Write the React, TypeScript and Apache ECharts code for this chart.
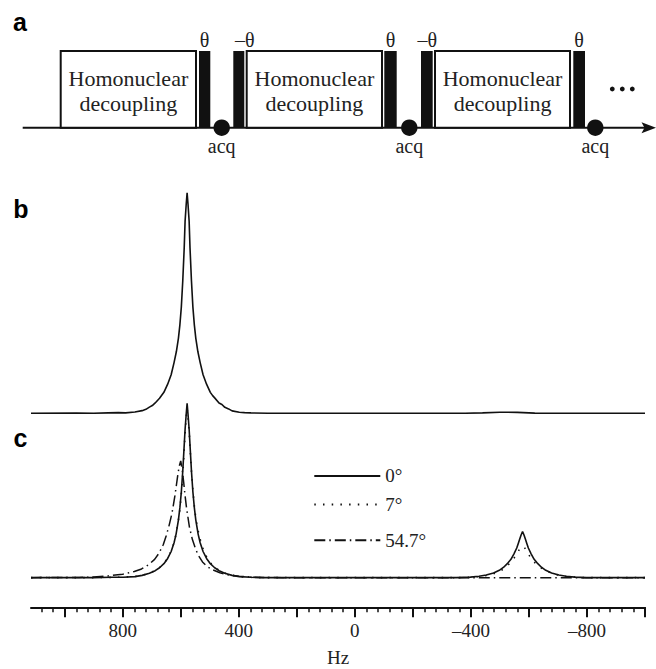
import React, { useEffect, useRef } from "react";
import * as echarts from "echarts";

const SERIF = "Liberation Serif";
const SANS = "Liberation Sans";
const INK = "#111111";

// legend names for panel c
const legendNames = ["0°", "7°", "54.7°"];

// axis ticks (Hz)
const majorTickHz = [-1000, -800, -600, -400, -200, 0, 200, 400, 600, 800, 1000];
const minorTickHz = [
  -1000, -960, -920, -880, -840, -800, -760, -720, -680, -640, -600, -560, -520, -480,
  -440, -400, -360, -320, -280, -240, -200, -160, -120, -80, -40, 0, 40, 80, 120, 160,
  200, 240, 280, 320, 360, 400, 440, 480, 520, 560, 600, 640, 680, 720, 760, 800, 840,
  880, 920, 960, 1000, 1040, 1080,
];
const labelHz = [800, 400, 0, -400, -800];

// panel b spectrum [Hz, intensity]
const spectrumB = [
  [1116, 0], [960, 0.001], [900, 0], [850, 0.002], [815, 0.003], [790, 0.002], [758, 0.006],
  [733, 0.012], [720, 0.018], [708, 0.028], [698, 0.035], [688, 0.047], [673, 0.068],
  [658, 0.095], [645, 0.132], [633, 0.175], [623, 0.23], [615, 0.28], [608, 0.34],
  [603, 0.4], [598, 0.48], [593, 0.6], [588, 0.75], [585, 0.87], [581, 0.95], [578, 1.0],
  [575, 0.95], [571, 0.87], [568, 0.75], [563, 0.6], [558, 0.48], [553, 0.4], [548, 0.34],
  [541, 0.28], [533, 0.23], [523, 0.175], [511, 0.132], [498, 0.095], [490, 0.08],
  [483, 0.07], [468, 0.047], [458, 0.04], [448, 0.027], [435, 0.02], [423, 0.011],
  [398, 0.005], [380, 0.003], [358, 0.002], [300, 0], [0, 0], [-380, 0], [-440, 0.002],
  [-500, 0.005], [-560, 0.004], [-620, 0.001], [-680, 0], [-1000, 0],
];

// panel c, 0 degrees
const spectrumC0 = [
  [1116, 0], [900, 0], [838, 0.002], [798, 0.002], [758, 0.006], [733, 0.013], [708, 0.025],
  [688, 0.04], [673, 0.057], [658, 0.08], [645, 0.11], [633, 0.15], [623, 0.2], [616, 0.25],
  [608, 0.33], [603, 0.4], [598, 0.49], [593, 0.61], [588, 0.76], [585, 0.85], [581, 0.94],
  [578, 1.0], [575, 0.94], [571, 0.85], [568, 0.76], [563, 0.61], [558, 0.49], [553, 0.4],
  [548, 0.33], [540, 0.25], [533, 0.2], [523, 0.15], [511, 0.11], [498, 0.08], [483, 0.057],
  [468, 0.04], [448, 0.025], [423, 0.013], [398, 0.006], [358, 0.002], [318, 0], [-350, 0],
  [-398, 0.003], [-428, 0.008], [-453, 0.015], [-478, 0.027], [-498, 0.042], [-513, 0.06],
  [-528, 0.085], [-538, 0.105], [-548, 0.135], [-558, 0.17], [-563, 0.195], [-568, 0.22],
  [-573, 0.245], [-578, 0.265], [-583, 0.245], [-588, 0.22], [-593, 0.195], [-598, 0.17],
  [-608, 0.135], [-618, 0.105], [-628, 0.085], [-643, 0.06], [-658, 0.042], [-678, 0.027],
  [-703, 0.015], [-728, 0.008], [-758, 0.003], [-798, 0], [-1000, 0],
];

// panel c, 7 degrees
const spectrumC7 = [
  [1116, 0], [900, 0], [838, 0.002], [798, 0.003], [758, 0.006], [733, 0.013], [708, 0.026],
  [688, 0.041], [673, 0.058], [658, 0.082], [645, 0.112], [633, 0.152], [623, 0.2],
  [616, 0.25], [608, 0.33], [603, 0.39], [598, 0.48], [593, 0.59], [588, 0.73], [585, 0.83],
  [581, 0.92], [578, 0.97], [575, 0.92], [571, 0.84], [568, 0.75], [563, 0.61], [558, 0.5],
  [553, 0.41], [548, 0.34], [540, 0.27], [533, 0.22], [523, 0.165], [511, 0.12],
  [498, 0.085], [483, 0.06], [468, 0.042], [448, 0.026], [423, 0.014], [398, 0.006],
  [358, 0.002], [318, 0], [-350, 0], [-398, 0.002], [-428, 0.006], [-453, 0.012],
  [-478, 0.022], [-498, 0.035], [-513, 0.05], [-528, 0.072], [-538, 0.09], [-548, 0.11],
  [-558, 0.135], [-563, 0.15], [-568, 0.165], [-573, 0.175], [-578, 0.18], [-583, 0.175],
  [-588, 0.165], [-593, 0.15], [-598, 0.135], [-608, 0.11], [-618, 0.09], [-628, 0.075],
  [-643, 0.055], [-658, 0.04], [-678, 0.026], [-703, 0.014], [-728, 0.007], [-758, 0.003],
  [-798, 0], [-1000, 0],
];

// panel c, 54.7 degrees
const spectrumC547 = [
  [1116, 0], [950, 0.001], [900, 0.004], [850, 0.01], [800, 0.02], [760, 0.035], [735, 0.05],
  [710, 0.075], [690, 0.105], [675, 0.14], [660, 0.19], [650, 0.24], [640, 0.3], [630, 0.37],
  [620, 0.47], [615, 0.53], [610, 0.59], [605, 0.64], [600, 0.67], [595, 0.62], [590, 0.55],
  [585, 0.47], [580, 0.4], [570, 0.29], [560, 0.22], [550, 0.17], [540, 0.13], [525, 0.09],
  [510, 0.065], [490, 0.045], [465, 0.028], [440, 0.017], [400, 0.008], [350, 0.003],
  [300, 0.001], [250, 0], [-1000, 0],
];

function pulseDiagram() {
  const els: any[] = [];
  const base = 127.7;
  const top = 51;
  els.push({ type: "line", shape: { x1: 22.7, y1: base, x2: 646, y2: base }, style: { stroke: INK, lineWidth: 2 } });
  els.push({ type: "polygon", shape: { points: [[641.5, 122.2], [656, base], [641.5, 133.2], [644.5, base]] }, style: { fill: INK } });
  const boxes = [[60.7, 196], [246.7, 382], [435, 570]];
  boxes.forEach(([x0, x1]) => {
    els.push({ type: "rect", shape: { x: x0, y: top, width: x1 - x0, height: base - top }, style: { fill: "#fff", stroke: INK, lineWidth: 2 } });
    els.push({ type: "text", x: (x0 + x1) / 2, y: 78.3, style: { text: "Homonuclear", fontSize: 22, fontFamily: SERIF, fill: "#222", align: "center", verticalAlign: "middle" } });
    els.push({ type: "text", x: (x0 + x1) / 2, y: 103.3, style: { text: "decoupling", fontSize: 22, fontFamily: SERIF, fill: "#222", align: "center", verticalAlign: "middle" } });
  });
  const pulses = [
    [199, 210.3, "θ", 204.6],
    [233.3, 244.3, "–θ", 244.7],
    [384.3, 396.7, "θ", 390.5],
    [421, 432.7, "–θ", 427.3],
    [573.3, 585, "θ", 579],
  ];
  pulses.forEach(([x0, x1, lab, lx]: any) => {
    els.push({ type: "rect", shape: { x: x0, y: top, width: x1 - x0, height: base - top }, style: { fill: INK } });
    els.push({ type: "text", x: lx, y: 40.3, style: { text: lab, fontSize: 20, fontFamily: SERIF, fill: "#222", align: "center", verticalAlign: "middle" } });
  });
  [221.7, 409.3, 595.3].forEach((cx) => {
    els.push({ type: "circle", shape: { cx, cy: base, r: 8.2 }, style: { fill: INK } });
    els.push({ type: "text", x: cx, y: 145.6, style: { text: "acq", fontSize: 20, fontFamily: SERIF, fill: "#222", align: "center", verticalAlign: "middle" } });
  });
  [612.3, 622.3, 632.3].forEach((cx) => {
    els.push({ type: "circle", shape: { cx, cy: 89, r: 2.4 }, style: { fill: INK } });
  });
  const letters = [["a", 20, 22], ["b", 21, 208.5], ["c", 20.5, 438]];
  letters.forEach(([t, x, y]: any) => {
    els.push({ type: "text", x, y, style: { text: t, fontSize: 25, fontWeight: "bold", fontFamily: SANS, fill: "#000", align: "center", verticalAlign: "middle" } });
  });
  return els;
}

export default function App() {
  const ref = useRef<HTMLDivElement>(null);
  useEffect(() => {
    document.body.style.margin = "0";
    const chart = echarts.init(ref.current!, null, { renderer: "svg" });
    const serifText = { fontSize: 19, fontFamily: SERIF, fontWeight: "normal", color: "#222" };
    const xCommon = { type: "value", min: -1000, max: 1116, inverse: true, position: "bottom" };
    const lineBase = { type: "line", symbol: "none", clip: false, silent: true };
    const legendCommon = {
      orient: "vertical",
      left: 313.3,
      padding: 0,
      itemWidth: 66,
      itemHeight: 14,
      selectedMode: false,
      itemStyle: { opacity: 0 },
      formatter: "{t|{name}}",
      textStyle: { ...serifText, rich: { t: { ...serifText } } },
    };
    const option: any = {
      animation: false,
      backgroundColor: "#fff",
      textStyle: { fontFamily: SERIF },
      legend: [
        { ...legendCommon, top: 466.4, data: [legendNames[0]] },
        { ...legendCommon, top: 495, data: [legendNames[1]] },
        { ...legendCommon, top: 530.7, data: [legendNames[2]] },
      ],
      grid: [
        { left: 31, width: 614, top: 192.7, height: 220.6, outerBoundsMode: "none", containLabel: false },
        { left: 31, width: 614, top: 403.3, height: 204, outerBoundsMode: "none", containLabel: false },
      ],
      xAxis: [
        { ...xCommon, gridIndex: 0, show: false },
        {
          ...xCommon,
          gridIndex: 1,
          axisLine: { show: true, onZero: false, lineStyle: { color: INK, width: 2 } },
          axisTick: { show: true, length: 10, lineStyle: { color: INK, width: 2 }, customValues: majorTickHz },
          axisLabel: {
            show: true,
            customValues: labelHz,
            formatter: (v: number) => "{t|" + (v < 0 ? "–" + Math.abs(v) : String(v)) + "}",
            ...serifText,
            rich: { t: { ...serifText } },
            margin: 14,
          },
          splitLine: { show: false },
          name: "Hz",
          nameLocation: "middle",
          nameGap: 41,
          nameTextStyle: { ...serifText },
        },
        {
          ...xCommon,
          gridIndex: 1,
          axisLine: { show: false, onZero: false },
          axisTick: { show: true, length: 5, lineStyle: { color: INK, width: 1.5 }, customValues: minorTickHz },
          axisLabel: { show: false },
          splitLine: { show: false },
        },
      ],
      yAxis: [
        { type: "value", gridIndex: 0, min: 0, max: 1, show: false },
        { type: "value", gridIndex: 1, min: -0.17, max: 1, show: false },
      ],
      series: [
        { ...lineBase, name: "b", xAxisIndex: 0, yAxisIndex: 0, data: spectrumB, lineStyle: { color: INK, width: 1.6 } },
        { ...lineBase, name: legendNames[2], xAxisIndex: 1, yAxisIndex: 1, data: spectrumC547, lineStyle: { color: INK, width: 1.5, type: [11, 4, 1.5, 4] }, itemStyle: { color: INK } },
        { ...lineBase, name: legendNames[1], xAxisIndex: 1, yAxisIndex: 1, data: spectrumC7, lineStyle: { color: INK, width: 1.6, type: [1.5, 7.2] }, itemStyle: { color: INK } },
        { ...lineBase, name: legendNames[0], xAxisIndex: 1, yAxisIndex: 1, data: spectrumC0, lineStyle: { color: INK, width: 1.6 }, itemStyle: { color: INK } },
      ],
      graphic: { elements: pulseDiagram() },
    };
    chart.setOption(option);
    return () => chart.dispose();
  }, []);
  return <div ref={ref} style={{ width: 656, height: 669, position: "absolute", left: 0, top: 0 }} />;
}
